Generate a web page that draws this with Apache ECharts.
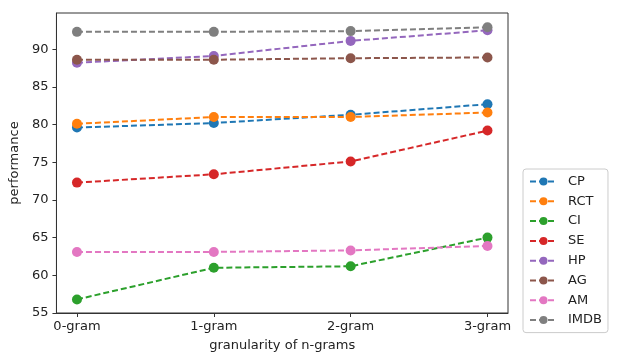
<!DOCTYPE html>
<html>
<head>
<meta charset="utf-8">
<script src="https://cdn.jsdelivr.net/npm/echarts@6/dist/echarts.min.js"></script>
<style>
html,body{margin:0;padding:0;background:#fff;}
#chart{width:617px;height:362px;}
</style>
</head>
<body>
<div id="chart"></div>
<script>
const categories = ['0-gram', '1-gram', '2-gram', '3-gram'];
const seriesNames = ['CP', 'RCT', 'CI', 'SE', 'HP', 'AG', 'AM', 'IMDB'];
const CP   = [79.6, 80.2, 81.3, 82.7];
const RCT  = [80.1, 81.0, 81.0, 81.6];
const CI   = [56.8, 61.0, 61.2, 65.0];
const SE   = [72.3, 73.4, 75.1, 79.2];
const HP   = [88.2, 89.1, 91.1, 92.5];
const AG   = [88.6, 88.6, 88.8, 88.9];
const AM   = [63.1, 63.1, 63.3, 63.9];
const IMDB = [92.3, 92.3, 92.4, 92.9];
const yTicks = [55, 60, 65, 70, 75, 80, 85, 90];
const values = [CP, RCT, CI, SE, HP, AG, AM, IMDB];
const colors = ['#1f77b4', '#ff7f0e', '#2ca02c', '#d62728', '#9467bd', '#8c564b', '#e377c2', '#7f7f7f'];
const xIdx = categories.map((c, i) => i);

const font = 'DejaVu Sans';
const chart = echarts.init(document.getElementById('chart'), null, {renderer: 'canvas'});
chart.setOption({
  animation: false,
  backgroundColor: '#fff',
  grid: {left: 55, right: 109, top: 13, bottom: 49, show: true, borderColor: '#333', borderWidth: 1, backgroundColor: 'transparent'},
  xAxis: {
    type: 'value', min: -0.15, max: 3.15,
    name: 'granularity of n-grams', nameLocation: 'middle', nameGap: 26,
    nameTextStyle: {fontFamily: font, fontSize: 13, color: '#222'},
    axisLine: {show: true, onZero: false, lineStyle: {color: '#333', width: 1}},
    axisTick: {show: true, length: 4, customValues: xIdx, lineStyle: {color: '#333'}},
    axisLabel: {customValues: xIdx, formatter: v => categories[Math.round(v)], fontFamily: font, fontSize: 13, color: '#222', margin: 7},
    splitLine: {show: false}
  },
  yAxis: {
    type: 'value', min: 55, max: 94.8,
    name: 'performance', nameLocation: 'middle', nameGap: 31, nameRotate: 90,
    nameTextStyle: {fontFamily: font, fontSize: 13, color: '#222'},
    axisLine: {show: true, onZero: false, lineStyle: {color: '#333', width: 1}},
    axisTick: {show: true, length: 4, customValues: yTicks, lineStyle: {color: '#333'}},
    axisLabel: {customValues: yTicks, fontFamily: font, fontSize: 13, color: '#222', margin: 8},
    splitLine: {show: false}
  },
  legend: {
    orient: 'vertical', left: 523, top: 169,
    data: seriesNames,
    itemWidth: 27, itemHeight: 10, itemGap: 6.8,
    padding: [6, 6, 6, 6],
    backgroundColor: '#fff', borderColor: '#ccc', borderWidth: 1, borderRadius: 3,
    textStyle: {fontFamily: font, fontSize: 13, color: '#222', padding: [0, 0, 0, 6]}
  },
  series: seriesNames.map((n, i) => ({
    name: n, type: 'line',
    data: values[i].map((v, j) => [xIdx[j], v]),
    symbol: 'circle', symbolSize: 10,
    itemStyle: {color: colors[i]},
    lineStyle: {color: colors[i], width: 2, type: [6, 3]}
  }))
});
</script>
</body>
</html>
